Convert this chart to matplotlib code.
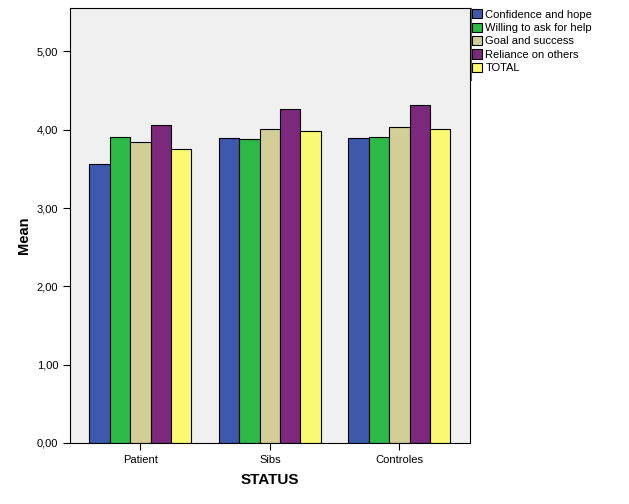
import numpy as np
import matplotlib.pyplot as plt
from matplotlib.ticker import FuncFormatter

plt.rcParams['font.family'] = ['Liberation Sans', 'DejaVu Sans']

# Dados
groups = ['Patient', 'Sibs', 'Controles']
series = ['Confidence and hope', 'Willing to ask for help', 'Goal and success',
          'Reliance on others', 'TOTAL']
confidence = [3.56, 3.90, 3.89]
willing = [3.91, 3.88, 3.91]
goal = [3.85, 4.01, 4.03]
reliance = [4.06, 4.26, 4.32]
total = [3.76, 3.99, 4.01]
colors = ['#3e58ac', '#2eb848', '#d3ce97', '#7b287d', '#fbf873']

values = [confidence, willing, goal, reliance, total]

fig = plt.figure(figsize=(6.29, 5.04), dpi=100)
ax = fig.add_axes([70 / 629, 1 - 443 / 504, 400 / 629, 435 / 504])
ax.set_facecolor('#f0f0f0')

x = np.arange(len(groups))
w = 0.158
for i, (vals, name, c) in enumerate(zip(values, series, colors)):
    ax.bar(x + (i - 2) * w, vals, width=w, color=c, edgecolor='black',
           linewidth=0.8, label=name)

ax.set_xlim(-0.543, 2.546)
ax.set_ylim(0, 5.555)
ax.set_yticks([0, 1, 2, 3, 4, 5])
ax.yaxis.set_major_formatter(FuncFormatter(lambda v, p: f'{v:.2f}'.replace('.', ',')))
ax.set_xticks(x)
ax.set_xticklabels(groups)
ax.tick_params(labelsize=8, length=5, width=0.8, direction='out')
for s in ax.spines.values():
    s.set_linewidth(0.8)

ax.set_ylabel('Mean', fontsize=10.5, fontweight='bold', va='center')
ax.yaxis.set_label_coords(-0.115, 0.478)
ax.set_xlabel('STATUS', fontsize=11, fontweight='bold', va='center')
ax.xaxis.set_label_coords(0.5, -0.085)

# linha vertical ao lado da legenda
fig.add_artist(plt.Line2D([470.5 / 629, 470.5 / 629], [1 - 8 / 504, 1 - 80 / 504],
                          color='#555555', linewidth=0.8))

fig.legend(loc='upper left', bbox_to_anchor=(471 / 629, 1 - 8 / 504),
           frameon=False, fontsize=8, handlelength=0.9, handleheight=0.9,
           handletextpad=0.3, labelspacing=0.27, borderaxespad=0, borderpad=0.1)

fig.savefig('out.png', dpi=100)
